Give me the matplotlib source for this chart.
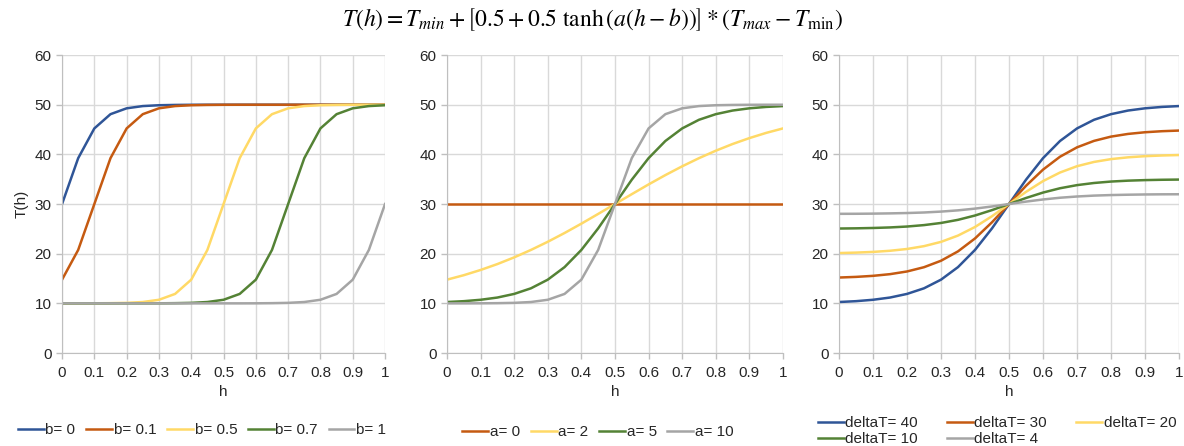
import matplotlib
matplotlib.use("Agg")
import matplotlib.pyplot as plt
import numpy as np

plt.rcParams['font.family'] = ['Liberation Sans', 'DejaVu Sans']
plt.rcParams['mathtext.fontset'] = 'stix'

# h from 0 to 1, step 0.05
h = [0, 0.05, 0.1, 0.15, 0.2, 0.25, 0.3, 0.35, 0.4, 0.45, 0.5,
     0.55, 0.6, 0.65, 0.7, 0.75, 0.8, 0.85, 0.9, 0.95, 1]

# panel 1: a = 10, b varies
b_labels = ['b= 0', 'b= 0.1', 'b= 0.5', 'b= 0.7', 'b= 1']
b_0 = [30, 39.24, 45.23, 48.10, 49.28, 49.73, 49.90, 49.96, 49.99, 50, 50,
       50, 50, 50, 50, 50, 50, 50, 50, 50, 50]
b_01 = [14.77, 20.76, 30, 39.24, 45.23, 48.10, 49.28, 49.73, 49.90, 49.96, 49.99,
        50, 50, 50, 50, 50, 50, 50, 50, 50, 50]
b_05 = [10, 10, 10.01, 10.04, 10.10, 10.27, 10.72, 11.90, 14.77, 20.76, 30,
        39.24, 45.23, 48.10, 49.28, 49.73, 49.90, 49.96, 49.99, 50, 50]
b_07 = [10, 10, 10, 10, 10, 10, 10.01, 10.04, 10.10, 10.27, 10.72,
        11.90, 14.77, 20.76, 30, 39.24, 45.23, 48.10, 49.28, 49.73, 49.90]
b_1 = [10, 10, 10, 10, 10, 10, 10, 10, 10, 10, 10,
       10, 10.01, 10.04, 10.10, 10.27, 10.72, 11.90, 14.77, 20.76, 30]

# panel 2: b = 0.5, a varies
a_labels = ['a= 0', 'a= 2', 'a= 5', 'a= 10']
a_0 = [30] * 21
a_2 = [14.77, 15.67, 16.72, 17.91, 19.26, 20.76, 22.40, 24.17, 26.05, 28.01, 30,
       31.99, 33.95, 35.83, 37.60, 39.24, 40.74, 42.09, 43.28, 44.33, 45.23]
a_5 = [10.27, 10.44, 10.72, 11.17, 11.90, 13.03, 14.77, 17.30, 20.76, 25.10, 30,
       34.90, 39.24, 42.70, 45.23, 46.97, 48.10, 48.83, 49.28, 49.56, 49.73]
a_10 = [10, 10, 10.01, 10.04, 10.10, 10.27, 10.72, 11.90, 14.77, 20.76, 30,
        39.24, 45.23, 48.10, 49.28, 49.73, 49.90, 49.96, 49.99, 50, 50]

# panel 3: a = 5, b = 0.5, deltaT varies
d_labels = ['deltaT= 40', 'deltaT= 30', 'deltaT= 20', 'deltaT= 10', 'deltaT= 4']
d_40 = [10.27, 10.44, 10.72, 11.17, 11.90, 13.03, 14.77, 17.30, 20.76, 25.10, 30,
        34.90, 39.24, 42.70, 45.23, 46.97, 48.10, 48.83, 49.28, 49.56, 49.73]
d_30 = [15.20, 15.33, 15.54, 15.88, 16.42, 17.28, 18.58, 20.47, 23.07, 26.33, 30,
        33.67, 36.93, 39.53, 41.42, 42.72, 43.58, 44.12, 44.46, 44.67, 44.80]
d_20 = [20.13, 20.22, 20.36, 20.59, 20.95, 21.52, 22.38, 23.65, 25.38, 27.55, 30,
        32.45, 34.62, 36.35, 37.62, 38.48, 39.05, 39.41, 39.64, 39.78, 39.87]
d_10 = [25.07, 25.11, 25.18, 25.29, 25.47, 25.76, 26.19, 26.82, 27.69, 28.78, 30,
        31.22, 32.31, 33.18, 33.81, 34.24, 34.53, 34.71, 34.82, 34.89, 34.93]
d_4 = [28.03, 28.04, 28.07, 28.12, 28.19, 28.30, 28.48, 28.73, 29.08, 29.51, 30,
       30.49, 30.92, 31.27, 31.52, 31.70, 31.81, 31.88, 31.93, 31.96, 31.97]

blue = '#2F5597'
orange = '#C55A11'
yellow = '#FFD966'
green = '#548235'
gray = '#A5A5A5'

fig = plt.figure(figsize=(11.84, 4.46), dpi=100)

fig.text(0.5, 0.955,
         r'$T(h) = T_{min} + \left[0.5 + 0.5\ \tanh\left(a(h-b)\right)\right] * \left(T_{max} - T_{\min}\right)$',
         ha='center', va='center', fontsize=17)

ax1 = fig.add_axes([0.0524, 0.2085, 0.2728, 0.668])
ax2 = fig.add_axes([0.3775, 0.2085, 0.2838, 0.668])
ax3 = fig.add_axes([0.7086, 0.2085, 0.2872, 0.668])

ax1.plot(h, b_0, color=blue, label=b_labels[0])
ax1.plot(h, b_01, color=orange, label=b_labels[1])
ax1.plot(h, b_05, color=yellow, label=b_labels[2])
ax1.plot(h, b_07, color=green, label=b_labels[3])
ax1.plot(h, b_1, color=gray, label=b_labels[4])

ax2.plot(h, a_0, color=orange, label=a_labels[0])
ax2.plot(h, a_2, color=yellow, label=a_labels[1])
ax2.plot(h, a_5, color=green, label=a_labels[2])
ax2.plot(h, a_10, color=gray, label=a_labels[3])

ax3.plot(h, d_40, color=blue, label=d_labels[0])
ax3.plot(h, d_30, color=orange, label=d_labels[1])
ax3.plot(h, d_20, color=yellow, label=d_labels[2])
ax3.plot(h, d_10, color=green, label=d_labels[3])
ax3.plot(h, d_4, color=gray, label=d_labels[4])

xt = np.arange(0, 1.01, 0.1)
xt_labels = ['0', '0.1', '0.2', '0.3', '0.4', '0.5', '0.6', '0.7', '0.8', '0.9', '1']
for ax in (ax1, ax2, ax3):
    for ln in ax.get_lines():
        ln.set_linewidth(1.8)
    ax.set_xlim(0, 1)
    ax.set_ylim(0, 60)
    ax.set_xticks(xt)
    ax.set_xticklabels(xt_labels)
    ax.set_yticks(range(0, 61, 10))
    ax.grid(True, color='#D9D9D9', linewidth=1)
    ax.set_axisbelow(True)
    for s in ('top', 'right'):
        ax.spines[s].set_visible(False)
    for s in ('left', 'bottom'):
        ax.spines[s].set_color('#BFBFBF')
    ax.tick_params(axis='both', colors='#BFBFBF', labelcolor='#262626',
                   labelsize=11, length=4, width=1)
    ax.tick_params(axis='x', pad=5)
    ax.set_xlabel('h', fontsize=11, color='#262626', labelpad=4)

ax1.set_ylabel('T(h)', fontsize=11, color='#262626', labelpad=4)

leg_kw = dict(frameon=False, fontsize=11, handlelength=1.7, handletextpad=0.1,
              labelcolor='#262626')
ax1.legend(loc='center', bbox_to_anchor=(202 / 1184, 1 - 430 / 446),
           bbox_transform=fig.transFigure, ncol=5, columnspacing=0.7, **leg_kw)
ax2.legend(loc='center', bbox_to_anchor=(598 / 1184, 1 - 432 / 446),
           bbox_transform=fig.transFigure, ncol=4, columnspacing=0.7, **leg_kw)

# row-wise order for the 3-column legend
hd, lb = ax3.get_legend_handles_labels()
order = [0, 3, 1, 4, 2]
ax3.legend([hd[i] for i in order], [lb[i] for i in order],
           loc='center', bbox_to_anchor=(997 / 1184, 1 - 431 / 446),
           bbox_transform=fig.transFigure, ncol=3, labelspacing=0.15,
           columnspacing=1.9, **leg_kw)

fig.savefig('out.png', dpi=100)
